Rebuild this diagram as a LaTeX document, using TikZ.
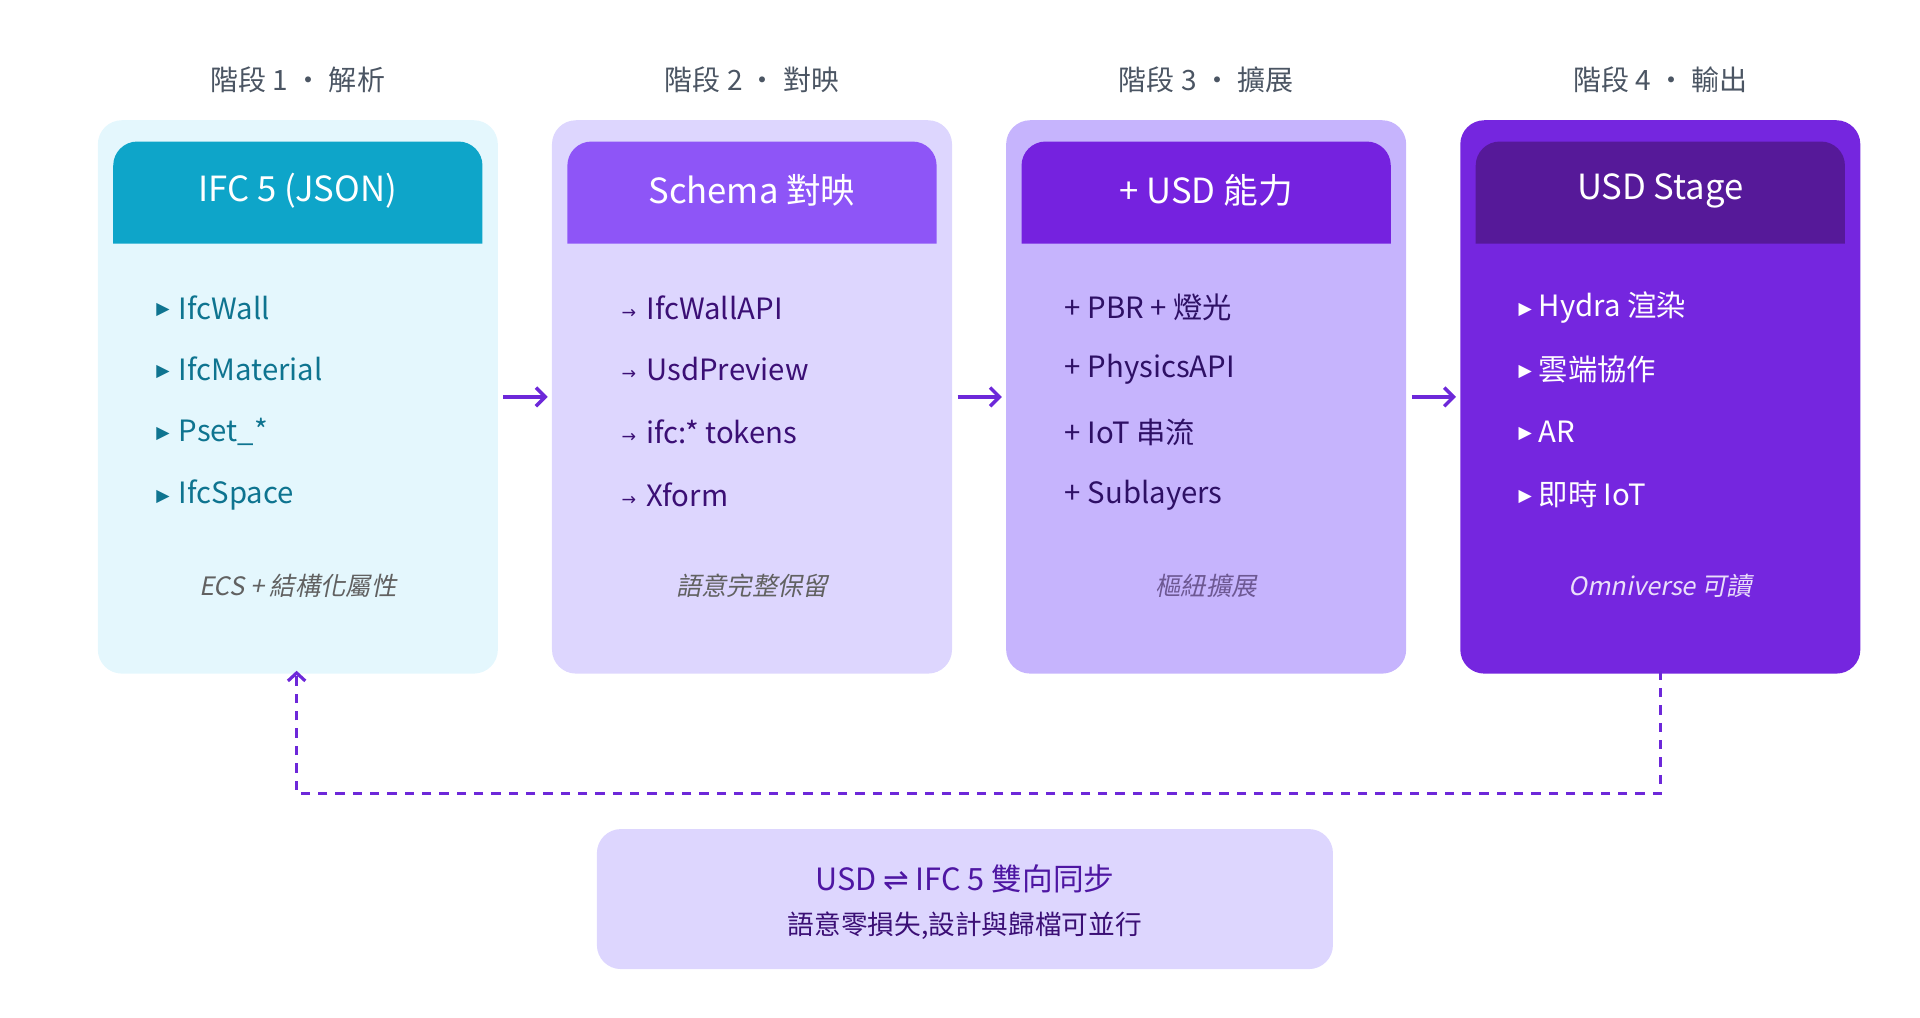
\documentclass[tikz,border=0pt]{standalone}
\usepackage{fontspec}
\setmainfont{Noto Sans CJK TC}[ItalicFont={Noto Sans CJK TC},ItalicFeatures={FakeSlant=0.2}]
\newfontfamily\symf{DejaVu Sans}
\usetikzlibrary{arrows.meta}
\definecolor{hA}{HTML}{0EA5C9}\definecolor{bA}{HTML}{E4F7FD}\definecolor{tA}{HTML}{0E7490}
\definecolor{hB}{HTML}{8E55F7}\definecolor{bB}{HTML}{DDD6FE}\definecolor{tB}{HTML}{3B0F75}
\definecolor{hC}{HTML}{7522DF}\definecolor{bC}{HTML}{C6B4FD}\definecolor{tC}{HTML}{2E1065}
\definecolor{hD}{HTML}{561999}\definecolor{bD}{HTML}{7526DF}\definecolor{tD}{HTML}{FFFFFF}
\definecolor{arc}{HTML}{6D28D9}\definecolor{ttl}{HTML}{4B5563}
\tikzset{
 body/.style={rounded corners=18,minimum width=300,minimum height=415,inner sep=0,draw=none},
 ttl/.style={font=\fontsize{21}{24}\selectfont,text=ttl},
 hdr/.style={font=\fontsize{26}{30}\selectfont,text=white},
 item/.style={anchor=west,font=\fontsize{22}{26}\selectfont,inner sep=0},
 foot/.style={font=\fontsize{19}{22}\selectfont\itshape},
 bul/.style={anchor=east,inner sep=0,font=\symf\fontsize{13}{14}\selectfont},
 arr/.style={draw=arc,line width=2.6pt,-{Straight Barb[length=7pt,width=14pt,line width=2.6pt]}},
}
\begin{document}
\begin{tikzpicture}[x=0.923pt,y=-0.923pt]
\useasboundingbox (0,0) rectangle (1560,827);
\foreach \i/\x/\h/\b/\t/\title in {1/242/hA/bA/tA/{階段 1 • 解析},2/611/hB/bB/tB/{階段 2 • 對映},3/980/hC/bC/tC/{階段 3 • 擴展},4/1349/hD/bD/tD/{階段 4 • 輸出}}{
 \node[body,fill=\b] (box\i) at (\x,322.5) {};
 \fill[\h] (\x-150,198) {[rounded corners=18] -- (\x-150,115) -- (\x+150,115)} -- (\x+150,198) -- cycle;
 \node[ttl] (t\i) at (\x,65) {\title};
}
\node[hdr] (h1) at (242,155) {IFC 5 (JSON)};
\node[hdr] (h2) at (611,155) {Schema 對映};
\node[hdr] (h3) at (980,155) {+ USD 能力};
\node[hdr] (h4) at (1349,155) {USD Stage};
% box 1
\foreach \y/\s [count=\k] in {250/IfcWall,300/IfcMaterial,351/Pset\_*,402/IfcSpace}{
 \node[item,text=tA] (a\k) at (145,\y) {\s};
 \node[bul,text=tA] (ab\k) at (138,\y+2) {▶};
}
\foreach \y/\s [count=\k] in {250/IfcWallAPI,300/UsdPreview,351/ifc:* tokens,402/Xform / Scope}{
 \node[item,text=tB] (b\k) at (525,\y) {\s};
 \node[bul,text=tB] (bb\k) at (517,\y+5) {→};
}
\foreach \y/\s [count=\k] in {250/+ PBR + 燈光,300/+ PhysicsAPI,351/+ IoT 串流,402/+ Sublayers}{
 \node[item,text=tC] (c\k) at (865,\y) {\s};
}
\foreach \y/\s [count=\k] in {250/Hydra 渲染,300/雲端協作,351/AR/VR 體驗,402/即時 IoT}{
 \node[item,text=tD] (d\k) at (1250,\y) {\s};
 \node[bul,text=tD] (db\k) at (1245,\y+2) {▶};
}
\node[foot,text=black!62] (f1) at (242,476) {ECS + 結構化屬性};
\node[foot,text=black!62] (f2) at (611,476) {語意完整保留};
\node[foot,text=tC!70] (f3) at (980,476) {樞紐擴展};
\node[foot,text=white!85!hC] (f4) at (1349,476) {Omniverse 可讀};
\draw[arr,shorten <=4pt,shorten >=3pt] (box1) -- (box2);
\draw[arr,shorten <=4pt,shorten >=3pt] (box2) -- (box3);
\draw[arr,shorten <=4pt,shorten >=3pt] (box3) -- (box4);
\coordinate (ds) at (1349,545);
\coordinate (de) at (241,545);
\draw[arc,line width=2.4pt,dash pattern=on 7pt off 6pt,-{Straight Barb[length=6pt,width=13pt,line width=2.4pt]}] (ds) -- (1349,645) -- (241,645) -- (de);
\node[fill=bB,rounded corners=18,minimum width=552,minimum height=105,inner sep=0] (sync) at (784,730.5) {};
\node[font=\fontsize{23}{26}\selectfont,text=hD!90!blue] (s1) at (784,714) {USD {\symf ⇌} IFC 5 雙向同步};
\node[font=\fontsize{20}{24}\selectfont,text=tB] (s2) at (784,752) {語意零損失,設計與歸檔可並行};
\end{tikzpicture}
\end{document}
